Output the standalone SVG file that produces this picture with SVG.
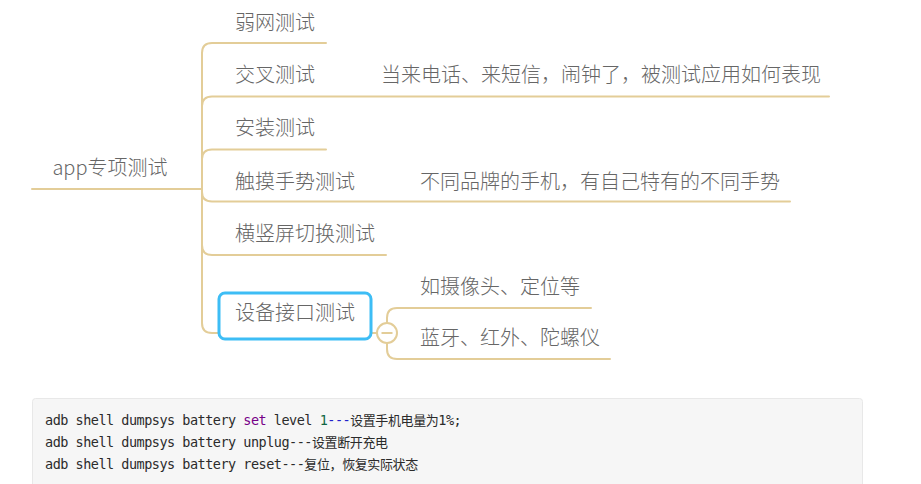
<svg xmlns="http://www.w3.org/2000/svg" width="921" height="484" viewBox="0 0 921 484">
<style>
.ln{fill:none;stroke:#e3cd98;stroke-width:2;stroke-linecap:round}
.t{font-family:"Noto Sans CJK SC","Noto Sans",sans-serif;font-size:20px;font-weight:300;fill:#666}
.c{font-family:"DejaVu Sans Mono","Noto Sans CJK SC",monospace;font-size:13.5px;letter-spacing:-0.5px;fill:#2b2b2b}
.z{font-family:"Noto Sans CJK SC",sans-serif;font-size:13px;letter-spacing:-0.4px}
</style>
<rect width="921" height="484" fill="#fff"/>
<g id="connectors">
<path class="ln" d="M32 189 H202"/>
<path class="ln" d="M202 189 V53 Q202 43 212 43 H326"/>
<path class="ln" d="M202 106 Q202 96.5 212 96.5 H829"/>
<path class="ln" d="M202 159 Q202 149.5 212 149.5 H326"/>
<path class="ln" d="M202 189 V192 Q202 201.5 212 201.5 H790"/>
<path class="ln" d="M202 189 V323 Q202 333 212 333 H219"/>
<path class="ln" d="M202 245 Q202 255 212 255 H386"/>
<path class="ln" d="M371 333 H377"/>
<path class="ln" d="M387 323 V318 Q387 308 397 308 H591"/>
<path class="ln" d="M387 343 V349 Q387 359 397 359 H610"/>
</g>
<g id="root"><text class="t" x="110" y="175" text-anchor="middle">app专项测试</text></g>
<g id="n1"><text class="t" x="235" y="30">弱网测试</text></g>
<g id="n2"><text class="t" x="235" y="82">交叉测试</text></g>
<g id="n2a"><text class="t" x="381" y="82">当来电话、来短信，闹钟了，被测试应用如何表现</text></g>
<g id="n3"><text class="t" x="235" y="135">安装测试</text></g>
<g id="n4"><text class="t" x="235" y="189">触摸手势测试</text></g>
<g id="n4a"><text class="t" x="420" y="189">不同品牌的手机，有自己特有的不同手势</text></g>
<g id="n5"><text class="t" x="235" y="241">横竖屏切换测试</text></g>
<g id="n6">
<rect x="219" y="293" width="152" height="46" rx="6" fill="#fff" stroke="#3dbdf5" stroke-width="3"/>
<text class="t" x="295" y="320" text-anchor="middle">设备接口测试</text>
</g>
<g id="collapse">
<circle cx="387" cy="333" r="10" fill="#fff" stroke="#e3cd98" stroke-width="2"/>
<path d="M381.5 333 H392.5" stroke="#e3cd98" stroke-width="2"/>
</g>
<g id="n6a"><text class="t" x="420" y="294">如摄像头、定位等</text></g>
<g id="n6b"><text class="t" x="420" y="345">蓝牙、红外、陀螺仪</text></g>
<g id="code">
<rect x="32.5" y="398.5" width="830" height="100" rx="3" fill="#f6f6f6" stroke="#e8e8e8"/>
<text class="c" x="45" y="425">adb shell dumpsys battery <tspan fill="#770088">set</tspan> level <tspan fill="#116644">1</tspan><tspan fill="#2222cc">---</tspan><tspan class="z">设置手机电量为</tspan>1%;</text>
<text class="c" x="45" y="447">adb shell dumpsys battery unplug---<tspan class="z">设置断开充电</tspan></text>
<text class="c" x="45" y="469">adb shell dumpsys battery reset---<tspan class="z">复位，恢复实际状态</tspan></text>
</g>
</svg>
